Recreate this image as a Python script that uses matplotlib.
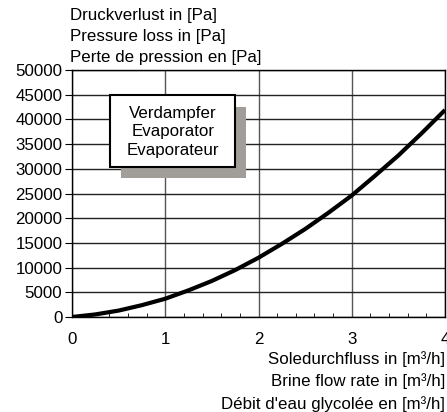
import matplotlib
matplotlib.use("Agg")
import matplotlib.pyplot as plt
from matplotlib.patches import Rectangle

plt.rcParams['font.family'] = ['Liberation Sans', 'DejaVu Sans']

# flow rate [m3/h] and pressure loss [Pa]
flow = [0, 0.25, 0.5, 0.75, 1.0, 1.25, 1.5, 1.75, 2.0, 2.25, 2.5, 2.75, 3.0, 3.25, 3.5, 3.75, 4.0]
loss = [0, 520, 1300, 2400, 3700, 5400, 7300, 9500, 12000, 14800, 17800, 21100, 24600, 28600, 32700, 37200, 41900]

y_ticks = list(range(0, 50001, 5000))
x_ticks = [0, 1, 2, 3, 4]
y_label = "Druckverlust in [Pa]\nPressure loss in [Pa]\nPerte de pression en [Pa]"
x_label = "Soledurchfluss in [m³/h]\nBrine flow rate in [m³/h]\nDébit d'eau glycolée en [m³/h]"
box_text = "Verdampfer\nEvaporator\nEvaporateur"

fs = 12.2

fig = plt.figure(figsize=(4.47, 4.12), dpi=100)
ax = fig.add_axes([72/447, 1-317/412, (445-72)/447, (317-70)/412])

ax.set_xlim(0, 4)
ax.set_ylim(0, 50000)
ax.set_xticks(x_ticks)
ax.set_yticks(y_ticks)
ax.set_xticks([i*0.2 for i in range(21)], minor=True)
ax.grid(True, axis='y', which='major', color='#222222', linewidth=1)
ax.grid(True, axis='x', which='major', color='#555555', linewidth=1)
ax.tick_params(axis='y', direction='out', length=5, labelsize=fs, pad=2)
ax.tick_params(axis='x', which='major', length=0, labelsize=fs, pad=11)
ax.tick_params(axis='x', which='minor', direction='in', length=3)
for s in ax.spines.values():
    s.set_color('black')
    s.set_linewidth(1)

ax.plot(flow, loss, color='black', linewidth=3, solid_capstyle='butt', zorder=5)

# box with shadow
ax.add_patch(Rectangle((0.525, 28100), 1.34, 14400, facecolor='#a19d99', edgecolor='none', zorder=6))
ax.add_patch(Rectangle((0.41, 30400), 1.34, 14550, facecolor='white', edgecolor='black', linewidth=1.5, zorder=7))
ax.text(1.08, 37500, box_text, ha='center', va='center', fontsize=fs, linespacing=1.3, zorder=8)

fig.text(70/447, 1-8/412, y_label, ha='left', va='top', fontsize=fs, linespacing=1.5)
fig.text(445/447, 1-351/412, x_label, ha='right', va='top', fontsize=fs, linespacing=1.5)

fig.savefig("out.png", dpi=100)
